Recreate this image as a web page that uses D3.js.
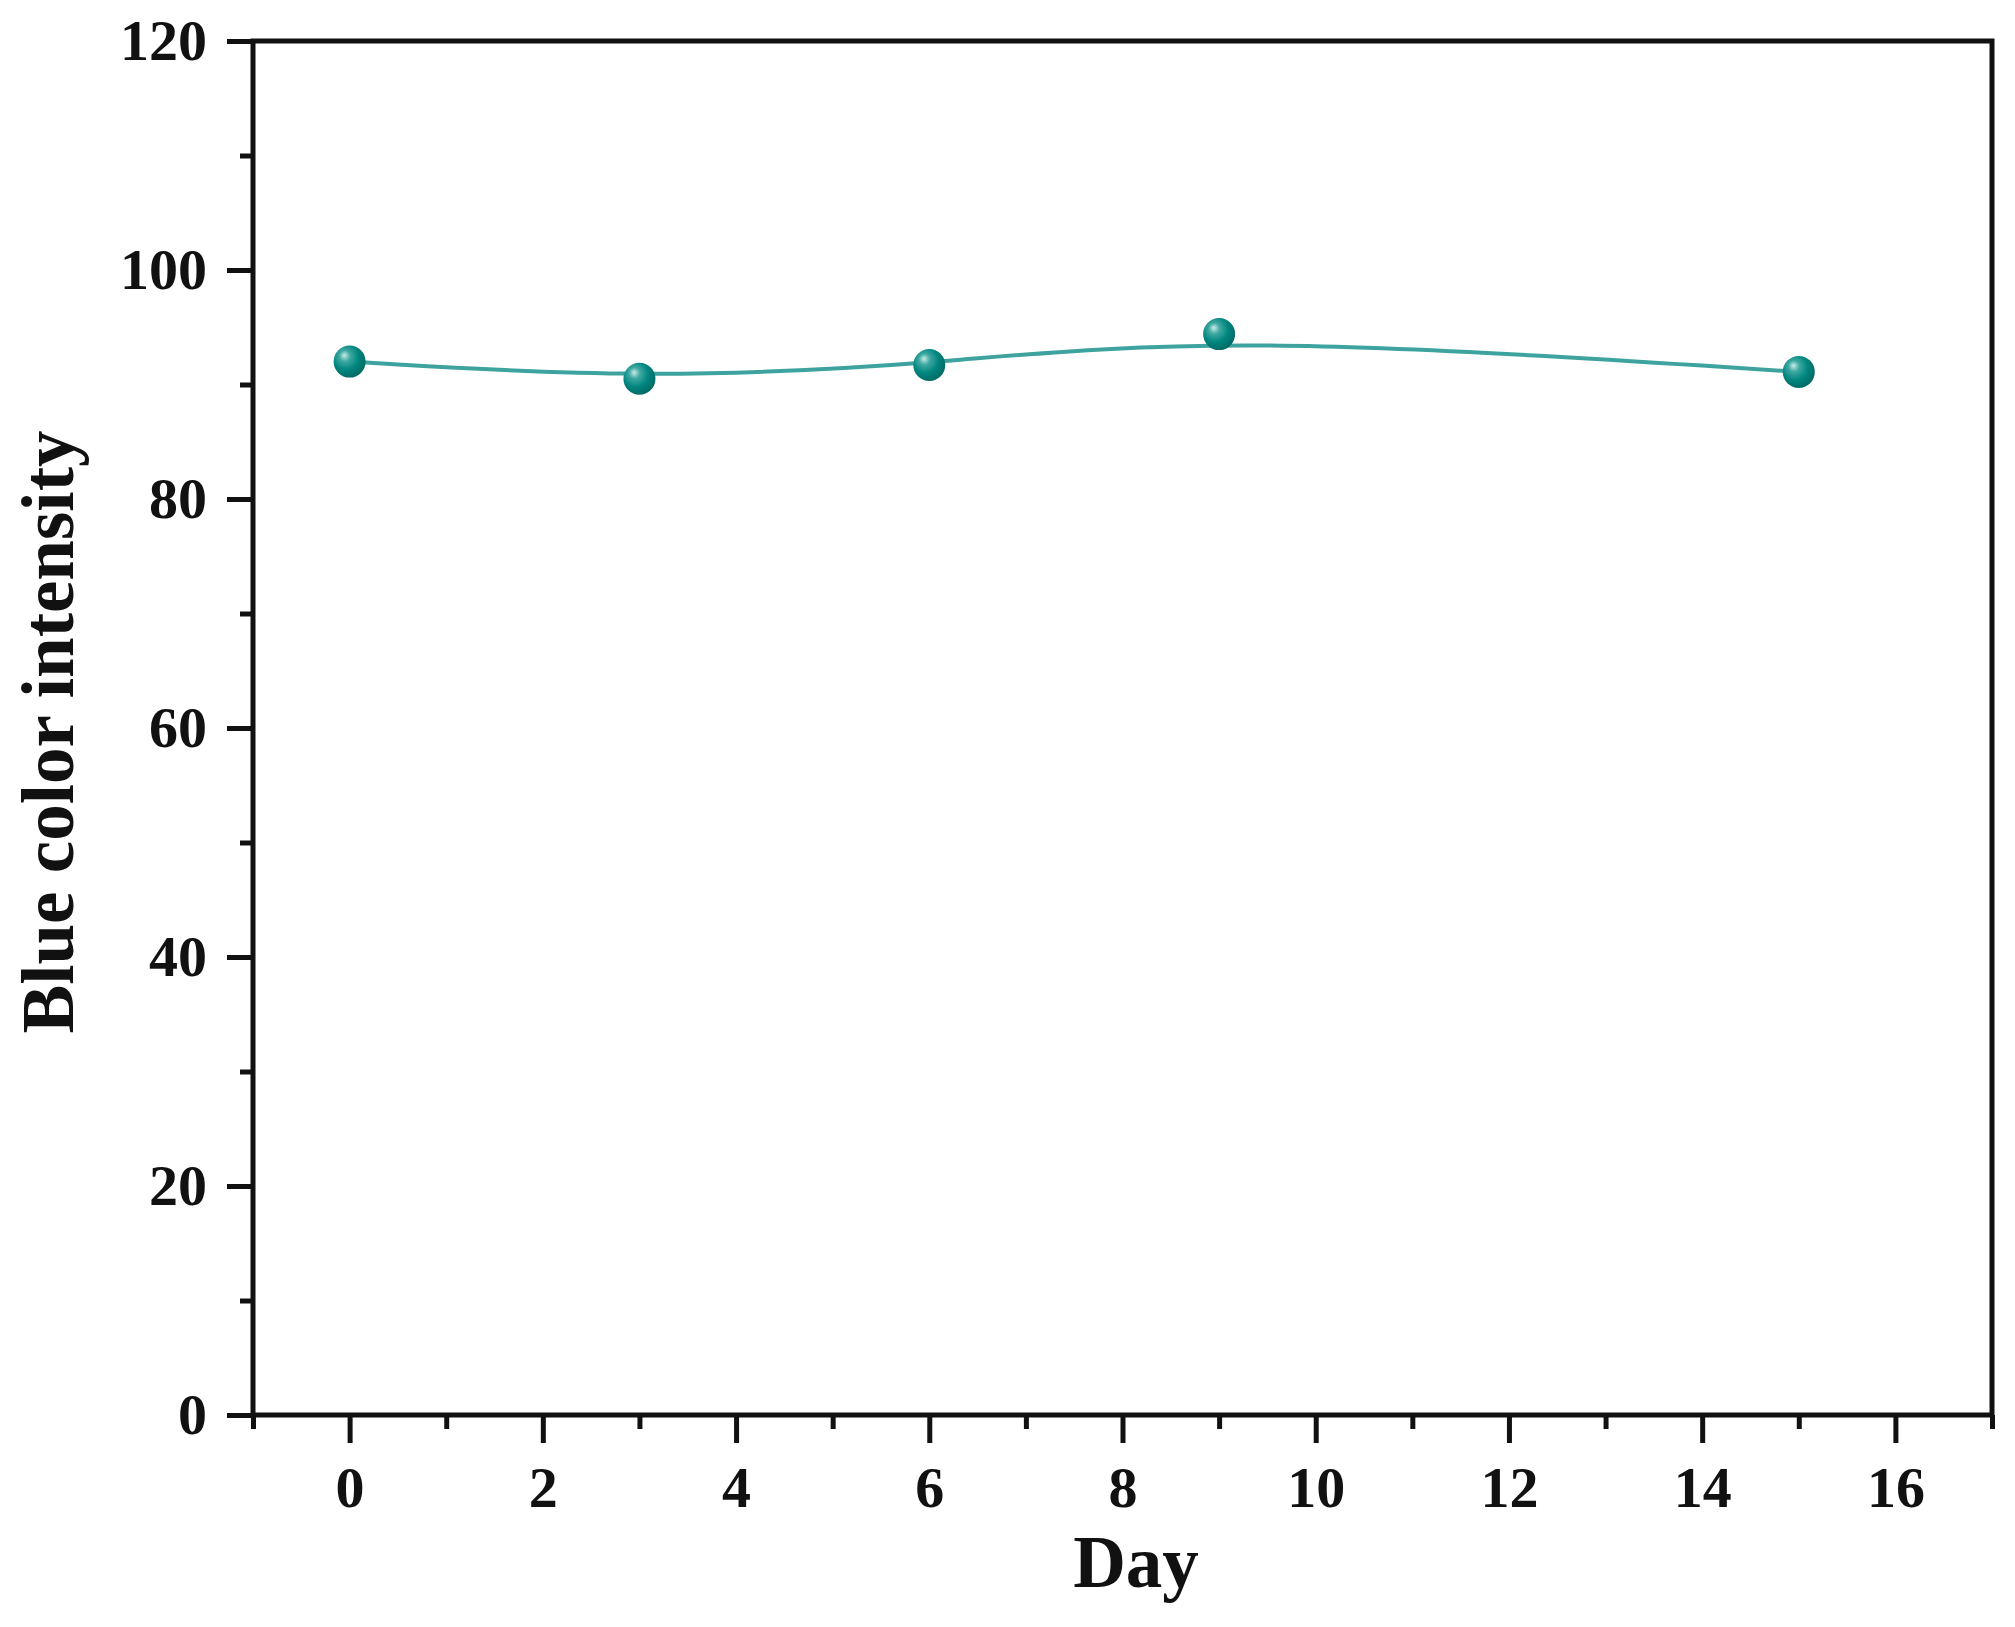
<!DOCTYPE html>
<html>
<head>
<meta charset="utf-8">
<script src="https://cdn.jsdelivr.net/npm/d3@7/dist/d3.min.js"></script>
<style>
  body { margin: 0; background: #fff; }
  svg text { font-family: "Liberation Serif", "Times New Roman", serif; font-weight: bold; fill: #111; }
</style>
</head>
<body>
<div class="chart"></div>
<script>
var svgWidth = 2015;
var svgHeight = 1627;

var margin = { top: 41, right: 23, bottom: 212, left: 253 };
var width = svgWidth - margin.left - margin.right;
var height = svgHeight - margin.top - margin.bottom;

// data
var days = [0, 3, 6, 9, 15];
var intensity = [92.0, 90.5, 91.7, 94.4, 91.1];

var xMajorTicks = [0, 2, 4, 6, 8, 10, 12, 14, 16];
var xMinorTicks = [-1, 1, 3, 5, 7, 9, 11, 13, 15, 17];
var yMajorTicks = [0, 20, 40, 60, 80, 100, 120];
var yMinorTicks = [10, 30, 50, 70, 90, 110];

var points = days.map(function(d, i) { return { day: d, value: intensity[i] }; });

var svg = d3.select(".chart")
  .append("svg")
  .attr("width", svgWidth)
  .attr("height", svgHeight);

var defs = svg.append("defs");
var grad = defs.append("radialGradient")
  .attr("id", "ball")
  .attr("cx", "40%").attr("cy", "38%").attr("r", "62%")
  .attr("fx", "33%").attr("fy", "30%");
grad.append("stop").attr("offset", "0%").attr("stop-color", "#c8ebe8");
grad.append("stop").attr("offset", "28%").attr("stop-color", "#3fa8a2");
grad.append("stop").attr("offset", "65%").attr("stop-color", "#00867f");
grad.append("stop").attr("offset", "100%").attr("stop-color", "#006c67");

var chartGroup = svg.append("g")
  .attr("transform", `translate(${margin.left}, ${margin.top})`);

var x = d3.scaleLinear().domain([-1, 17]).range([0, width]);
var y = d3.scaleLinear().domain([0, 120]).range([height, 0]);

// axes
var axisStroke = 5;

chartGroup.append("g")
  .attr("transform", `translate(0, ${height})`)
  .call(d3.axisBottom(x).tickValues(xMajorTicks).tickSize(28).tickSizeOuter(0).tickPadding(23));
chartGroup.append("g")
  .attr("transform", `translate(0, ${height})`)
  .call(d3.axisBottom(x).tickValues(xMinorTicks).tickSize(14).tickSizeOuter(0).tickFormat(""));

chartGroup.append("g")
  .call(d3.axisLeft(y).tickValues(yMajorTicks).tickSize(26).tickSizeOuter(0).tickPadding(20));
chartGroup.append("g")
  .call(d3.axisLeft(y).tickValues(yMinorTicks).tickSize(13).tickSizeOuter(0).tickFormat(""));

chartGroup.selectAll(".domain").remove();
chartGroup.selectAll(".tick line")
  .attr("stroke", "#111")
  .attr("stroke-width", axisStroke);
chartGroup.selectAll(".tick text")
  .style("font-size", "58px");

// frame
chartGroup.append("rect")
  .attr("x", 0)
  .attr("y", 0)
  .attr("width", width)
  .attr("height", height)
  .attr("fill", "none")
  .attr("stroke", "#111")
  .attr("stroke-width", axisStroke);

// smoothed line
var drawLine = d3.line()
  .curve(d3.curveBasis)
  .x(d => x(d.day))
  .y(d => y(d.value));

chartGroup.append("path")
  .attr("d", drawLine(points))
  .attr("fill", "none")
  .attr("stroke", "#3ea39e")
  .attr("stroke-width", 4);

chartGroup.selectAll(".dot")
  .data(points)
  .enter()
  .append("circle")
  .attr("class", "dot")
  .attr("cx", d => x(d.day))
  .attr("cy", d => y(d.value))
  .attr("r", 16)
  .attr("fill", "url(#ball)");

// axis titles
svg.append("text")
  .attr("x", 1136)
  .attr("y", 1587)
  .attr("text-anchor", "middle")
  .style("font-size", "73px")
  .text("Day");

svg.append("text")
  .attr("transform", "rotate(-90)")
  .attr("x", -732)
  .attr("y", 73)
  .attr("text-anchor", "middle")
  .style("font-size", "73px")
  .text("Blue color intensity");
</script>
</body>
</html>
